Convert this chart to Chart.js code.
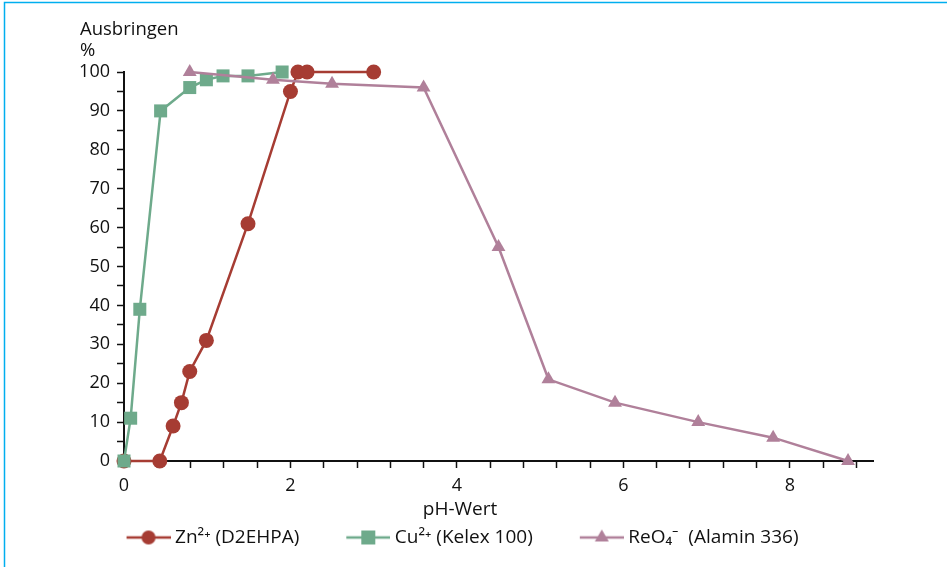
<!DOCTYPE html>
<html>
<head>
<meta charset="utf-8">
<script src="https://cdn.jsdelivr.net/npm/chart.js@4.4.1/dist/chart.umd.min.js"></script>
<style>
html,body{margin:0;padding:0;background:#fff;}
#wrap{width:947px;height:567px;position:relative;}
</style>
</head>
<body>
<div id="wrap"><canvas id="c" width="947" height="567"></canvas></div>
<script>
// ---- data ----
const znPH   = [0, 0.43, 0.59, 0.69, 0.79, 0.99, 1.49, 2.0, 2.09, 2.2, 3.0];
const znVal  = [0, 0, 9, 15, 23, 31, 61, 95, 100, 100, 100];
const cuPH   = [0, 0.08, 0.19, 0.44, 0.79, 0.99, 1.19, 1.49, 1.9];
const cuVal  = [0, 11, 39, 90, 96, 98, 99, 99, 100];
const rePH   = [0.79, 1.79, 2.5, 3.6, 4.5, 5.1, 5.9, 6.9, 7.8, 8.7];
const reVal  = [100, 98, 97, 96, 55, 21, 15, 10, 6, 0];
const seriesNames = ['Zn\u00B2\u207A (D2EHPA)', 'Cu\u00B2\u207A (Kelex 100)', 'ReO\u2084\u207B  (Alamin 336)'];
const xLabelTicks = [0, 2, 4, 6, 8];
const xTitle = 'pH-Wert';
const yTitle = ['Ausbringen', '%'];

const RED = '#a63c33', GREEN = '#6eaa8b', PURPLE = '#b0809a';
const FONT = "'Open Sans', 'Noto Sans', sans-serif";

function toPts(xs, ys){ return xs.map((x,i)=>({x:x, y:ys[i]})); }

function legendImg(color, style){
  const W = 86, H = 18;
  const cv = document.createElement('canvas');
  cv.width = W; cv.height = H;
  const c = cv.getContext('2d');
  c.strokeStyle = color; c.lineWidth = 2.5;
  c.beginPath(); c.moveTo(W-44, H/2); c.lineTo(W, H/2); c.stroke();
  c.fillStyle = color;
  const cx = W-22, cy = H/2;
  c.beginPath();
  if (style === 'circle') { c.arc(cx, cy, 7, 0, Math.PI*2); }
  else if (style === 'rect') { c.rect(cx-7, cy-7, 14, 14); }
  else { c.moveTo(cx, cy-8); c.lineTo(cx+7, cy+4); c.lineTo(cx-7, cy+4); c.closePath(); }
  c.fill();
  return cv;
}

const colors = [RED, GREEN, PURPLE];
const styles = ['circle', 'rect', 'triangle'];
const radii = [7.5, 9.2, 8];
const drawOrder = [2, 1, 0];

const textPlugin = {
  id: 'texts',
  beforeDraw(chart){
    const ctx = chart.ctx;
    ctx.save();
    ctx.fillStyle = '#fff';
    ctx.fillRect(0,0,chart.width,chart.height);
    ctx.strokeStyle = '#00aeef';
    ctx.lineWidth = 1.5;
    ctx.beginPath();
    ctx.moveTo(4.5, chart.height); ctx.lineTo(4.5, 2.5); ctx.lineTo(chart.width, 2.5);
    ctx.stroke();
    ctx.restore();
  },
  afterDraw(chart){
    const ctx = chart.ctx;
    ctx.save();
    ctx.fillStyle = '#111';
    ctx.font = '18.5px ' + FONT;
    ctx.textAlign = 'left';
    ctx.textBaseline = 'alphabetic';
    ctx.fillText(yTitle[0], 80, 35);
    ctx.fillText(yTitle[1], 80, 56);
    ctx.textAlign = 'center';
    ctx.font = '19px ' + FONT;
    ctx.fillText(xTitle, 460, 515);
    ctx.restore();
  }
};

new Chart(document.getElementById('c'), {
  type: 'scatter',
  data: {
    datasets: [
      {label: seriesNames[0], data: toPts(znPH, znVal)},
      {label: seriesNames[1], data: toPts(cuPH, cuVal)},
      {label: seriesNames[2], data: toPts(rePH, reVal)}
    ].map((d,i)=>Object.assign(d, {
      showLine: true,
      order: drawOrder[i],
      borderColor: colors[i],
      backgroundColor: colors[i],
      pointBackgroundColor: colors[i],
      pointBorderColor: colors[i],
      borderWidth: 2.5,
      pointStyle: styles[i],
      pointRadius: radii[i],
      pointBorderWidth: 0,
      tension: 0,
      clip: false
    }))
  },
  options: {
    responsive: false,
    animation: false,
    layout: {padding: {top: 72, right: 74, bottom: 10, left: 15}},
    plugins: {
      tooltip: {enabled: false},
      legend: {
        position: 'bottom',
        labels: {
          usePointStyle: true,
          pointStyleWidth: 76,
          padding: 10,
          color: '#111',
          font: {family: FONT, size: 19},
          generateLabels(chart){
            return chart.data.datasets.map((d,i)=>({
              text: d.label,
              pointStyle: legendImg(colors[i], styles[i]),
              fillStyle: colors[i], strokeStyle: colors[i], lineWidth: 0,
              fontColor: '#111',
              hidden: false, datasetIndex: i
            }));
          }
        }
      }
    },
    scales: {
      x: {
        type: 'linear', min: 0, max: 9,
        afterBuildTicks(scale){
          const t = [];
          for (let k = 0; k <= 22; k++) t.push({value: Math.round(k*4)/10});
          scale.ticks = t;
        },
        afterFit(scale){ scale.height = 57; },
        ticks: {
          autoSkip: false, maxRotation: 0, padding: 7,
          color: '#111', font: {family: FONT, size: 18},
          callback(v){ return xLabelTicks.some(t=>Math.abs(t-v)<1e-6) ? String(Math.round(v)) : ''; }
        },
        grid: {drawOnChartArea: false, drawTicks: true, tickLength: 7, tickColor: '#111', tickWidth: 1.5},
        border: {display: true, color: '#111', width: 2}
      },
      y: {
        type: 'linear', min: 0, max: 100,
        afterBuildTicks(scale){
          const t = [];
          for (let v = 0; v <= 100; v += 5) t.push({value: v});
          scale.ticks = t;
        },
        afterFit(scale){ scale.width = 109; },
        ticks: {
          autoSkip: false, padding: 7,
          color: '#111', font: {family: FONT, size: 18},
          callback(v){ return v % 10 === 0 ? String(v) : ''; }
        },
        grid: {drawOnChartArea: false, drawTicks: true, tickLength: 7, tickColor: '#111', tickWidth: 1.5},
        border: {display: true, color: '#111', width: 2}
      }
    }
  },
  plugins: [textPlugin]
});
</script>
</body>
</html>
